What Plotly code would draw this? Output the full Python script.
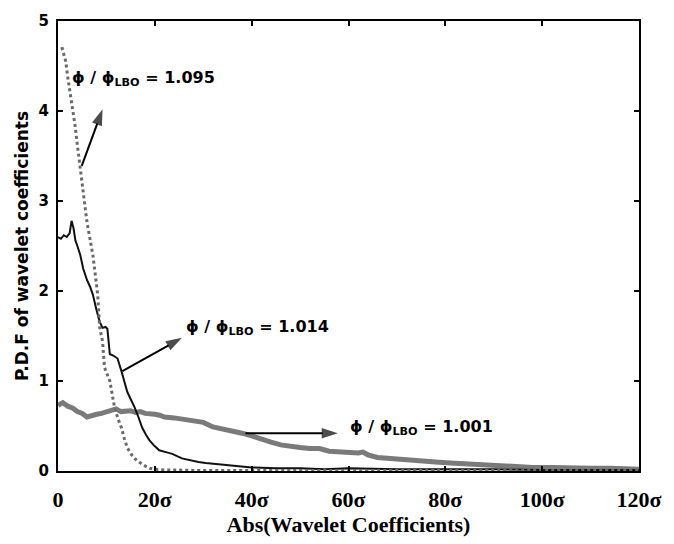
import plotly.graph_objects as go

# phi/phi_LBO = 1.095 (dotted)
x_1095 = [0.8, 1.2, 1.6, 2.0, 2.5, 3.0, 3.5, 4.0, 4.5, 5.0, 5.5, 6.0, 6.6, 7.2, 7.7,
          8.2, 8.6, 9.2, 9.6, 10.2, 10.7, 11.2, 11.7, 12.4, 13.1, 13.7, 14.3, 15.2,
          16.2, 17.5, 18.9, 20, 22, 25, 30, 40, 50, 60, 70, 80, 90, 100, 110, 120]
y_1095 = [4.71, 4.62, 4.55, 4.38, 4.22, 4.05, 3.85, 3.62, 3.40, 3.20, 3.00, 2.76, 2.58,
          2.40, 2.18, 1.96, 1.60, 1.44, 1.15, 1.06, 1.00, 0.85, 0.70, 0.58, 0.48, 0.36,
          0.26, 0.18, 0.12, 0.07, 0.03, 0.02, 0.01, 0.01, 0.005, 0.005, 0.005, 0.005,
          0.005, 0.005, 0.005, 0.005, 0.005, 0.005]

# phi/phi_LBO = 1.014 (solid black)
x_1014 = [0, 0.6, 1.2, 1.8, 2.4, 2.8, 3.2, 3.6, 4.0, 4.6, 5.2, 6.0, 6.6, 7.2, 7.9, 8.6,
          9.2, 9.8, 10.2, 10.7, 11.5, 12.3, 13.1, 13.7, 14.3, 15.0, 15.8, 16.6, 17.4,
          18.2, 18.9, 19.9, 20.9, 22.3, 23.6, 25.6, 27.0, 29.0, 30.5, 32.6, 34.5, 36.0,
          40, 45, 50, 55, 60, 70, 80, 90, 100, 110, 120]
y_1014 = [2.60, 2.58, 2.62, 2.60, 2.64, 2.78, 2.70, 2.56, 2.50, 2.40, 2.25, 2.12, 2.05,
          1.96, 1.80, 1.66, 1.59, 1.60, 1.58, 1.30, 1.28, 1.25, 1.11, 1.00, 0.88, 0.80,
          0.71, 0.60, 0.48, 0.40, 0.34, 0.28, 0.23, 0.21, 0.19, 0.14, 0.12, 0.10, 0.09,
          0.08, 0.07, 0.06, 0.04, 0.03, 0.03, 0.02, 0.03, 0.02, 0.02, 0.02, 0.01, 0.01,
          0.01]

# phi/phi_LBO = 1.001 (thick grey)
x_1001 = [0, 1, 2, 3, 4, 5, 6, 7, 8, 9, 10, 11, 12, 13, 14, 15, 16, 17, 18, 19, 20, 21,
          22, 24, 26, 28, 30, 32, 34, 36, 38, 40, 42, 44, 46, 48, 50, 52, 54, 56, 58, 60,
          62, 63, 64, 66, 68, 70, 72, 75, 78, 81, 84, 87, 90, 94, 98, 102, 106, 110, 114,
          118, 120]
y_1001 = [0.73, 0.76, 0.72, 0.70, 0.66, 0.64, 0.60, 0.62, 0.63, 0.64, 0.66, 0.68, 0.69,
          0.66, 0.67, 0.67, 0.65, 0.66, 0.64, 0.64, 0.63, 0.62, 0.60, 0.59, 0.57, 0.55,
          0.54, 0.49, 0.47, 0.45, 0.42, 0.39, 0.35, 0.32, 0.29, 0.27, 0.26, 0.25, 0.25,
          0.22, 0.21, 0.21, 0.20, 0.21, 0.18, 0.15, 0.14, 0.13, 0.12, 0.11, 0.10, 0.09,
          0.08, 0.07, 0.06, 0.05, 0.04, 0.04, 0.03, 0.03, 0.03, 0.02, 0.02]

x_tickvals = [0, 20, 40, 60, 80, 100, 120]
x_ticktext = ["0", "20σ", "40σ", "60σ", "80σ", "100σ", "120σ"]
y_tickvals = [0, 1, 2, 3, 4, 5]

# label value, label anchor (left, middle), arrow tail (on curve), arrow head
labels = [
    ("1.095", (2.5, 4.36), (4.9, 3.39), (9.2, 4.02)),
    ("1.014", (26.0, 1.60), (13.3, 1.11), (25.6, 1.48)),
    ("1.001", (59.8, 0.48), (38.7, 0.42), (57.8, 0.42)),
]

fig = go.Figure()
fig.add_trace(go.Scatter(x=x_1001, y=y_1001, mode="lines",
                         line=dict(color="#7a7a7a", width=5)))
fig.add_trace(go.Scatter(x=x_1014, y=y_1014, mode="lines",
                         line=dict(color="#111111", width=2)))
fig.add_trace(go.Scatter(x=x_1095, y=y_1095, mode="lines",
                         line=dict(color="#6a6a6a", width=3, dash="dot")))

ann_font = dict(family="DejaVu Sans", size=16, color="black", weight="bold")
for val, (tx, ty), (x0, y0), (x1, y1) in labels:
    # arrow from the curve towards its label
    fig.add_trace(go.Scatter(
        x=[x0, x1], y=[y0, y1], mode="lines+markers",
        line=dict(color="black", width=2),
        marker=dict(symbol=["circle", "arrow"], size=[0, 17], color="black",
                    angleref="previous", line=dict(width=0)),
        hoverinfo="skip"))
    fig.add_annotation(x=tx, y=ty, xref="x", yref="y", showarrow=False,
                       xanchor="left", yanchor="middle",
                       text=f"ϕ / ϕ<sub>LBO</sub> = {val}", font=ann_font)

axis_common = dict(showline=True, linecolor="black", linewidth=2, mirror="ticks",
                   ticks="inside", ticklen=5, tickwidth=1.5, tickcolor="black",
                   showgrid=False, zeroline=False)

fig.update_layout(
    width=674, height=544,
    margin=dict(l=58, r=32, t=17, b=73),
    paper_bgcolor="white", plot_bgcolor="white",
    showlegend=False,
    xaxis=dict(range=[0, 120], tickvals=x_tickvals, ticktext=x_ticktext,
               tickfont=dict(family="Liberation Serif", size=22, color="black",
                             weight="bold"),
               ticklabelstandoff=8,
               title=dict(text="Abs(Wavelet Coefficients)", standoff=4,
                          font=dict(family="Liberation Serif", size=22, color="black",
                                    weight="bold")),
               **axis_common),
    yaxis=dict(range=[0, 5], tickvals=y_tickvals,
               tickfont=dict(family="DejaVu Sans", size=15, color="black",
                             weight="bold"),
               ticklabelstandoff=4,
               title=dict(text="P.D.F of wavelet coefficients", standoff=6,
                          font=dict(family="DejaVu Sans", size=17, color="black",
                                    weight="bold")),
               **axis_common),
)

fig.write_html("out.html")
